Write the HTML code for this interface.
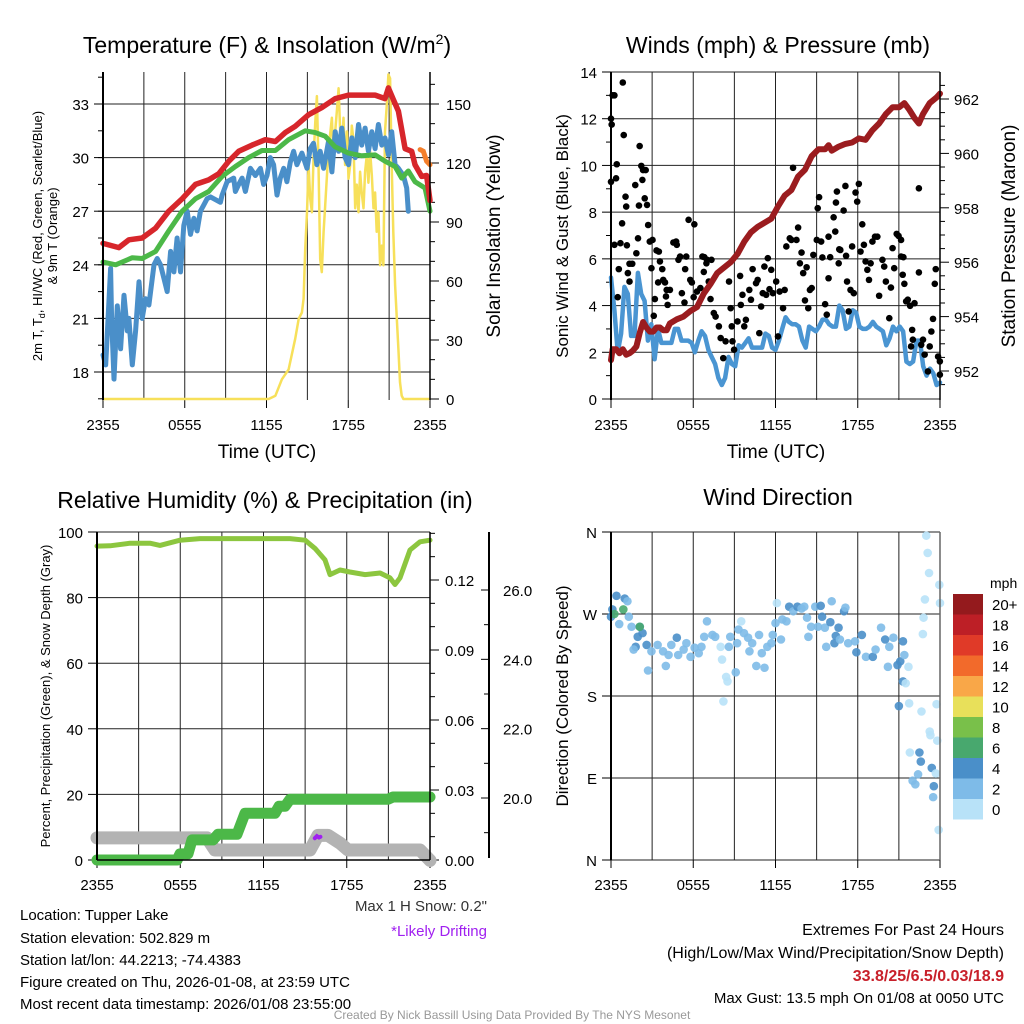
<!DOCTYPE html>
<html><head><meta charset="utf-8">
<style>
html,body{margin:0;padding:0;background:#fff;}
svg{display:block;font-family:"Liberation Sans",Arial,sans-serif;}
</style></head>
<body>
<svg id="chart" width="1024" height="1024" viewBox="0 0 1024 1024" xmlns="http://www.w3.org/2000/svg">
<rect width="1024" height="1024" fill="#fff"/>
<!-- titles -->
<text x="267" y="53" font-size="23" text-anchor="middle">Temperature (F) &amp; Insolation (W/m<tspan font-size="14" dy="-9">2</tspan><tspan dy="9">)</tspan></text>
<text x="778" y="53" font-size="23" text-anchor="middle">Winds (mph) &amp; Pressure (mb)</text>
<text x="265" y="508" font-size="23" text-anchor="middle">Relative Humidity (%) &amp; Precipitation (in)</text>
<text x="778" y="505" font-size="23" text-anchor="middle">Wind Direction</text>
<!-- axis titles -->
<text x="267" y="458" font-size="19" text-anchor="middle">Time (UTC)</text>
<text x="776" y="458" font-size="19" text-anchor="middle">Time (UTC)</text>
<text transform="translate(42,236) rotate(-90)" font-size="13" text-anchor="middle">2m T, T<tspan font-size="9" dy="3">d</tspan><tspan dy="-3">, HI/WC (Red, Green, Scarlet/Blue)</tspan></text>
<text transform="translate(57,236) rotate(-90)" font-size="13" text-anchor="middle">&amp; 9m T (Orange)</text>
<text transform="translate(500,236) rotate(-90)" font-size="19" text-anchor="middle">Solar Insolation (Yellow)</text>
<text transform="translate(568,236) rotate(-90)" font-size="17" text-anchor="middle">Sonic Wind &amp; Gust (Blue, Black)</text>
<text transform="translate(1015,236) rotate(-90)" font-size="19" text-anchor="middle">Station Pressure (Maroon)</text>
<text transform="translate(50,696) rotate(-90)" font-size="13" text-anchor="middle">Percent, Precipitation (Green), &amp; Snow Depth (Gray)</text>
<text transform="translate(568,696) rotate(-90)" font-size="17" text-anchor="middle">Direction (Colored By Speed)</text>
<g id="layers"></g>
<!-- colorbar -->
<text x="990" y="588" font-size="14">mph</text>
<g id="cbar"></g>
<!-- bottom text -->
<g font-size="15">
<text x="20" y="920">Location: Tupper Lake</text>
<text x="20" y="943">Station elevation: 502.829 m</text>
<text x="20" y="965">Station lat/lon: 44.2213; -74.4383</text>
<text x="20" y="987">Figure created on Thu, 2026-01-08, at 23:59 UTC</text>
<text x="20" y="1009">Most recent data timestamp: 2026/01/08 23:55:00</text>
</g>
<text x="487" y="911" font-size="15" text-anchor="end" fill="#333">Max 1 H Snow: 0.2"</text>
<text x="487" y="936" font-size="15" text-anchor="end" fill="#a020f0">*Likely Drifting</text>
<g font-size="16" text-anchor="end">
<text x="1004" y="935">Extremes For Past 24 Hours</text>
<text x="1004" y="958">(High/Low/Max Wind/Precipitation/Snow Depth)</text>
<text x="1004" y="981" fill="#c8202a" font-weight="bold">33.8/25/6.5/0.03/18.9</text>
<text x="1004" y="1003" font-size="15">Max Gust: 13.5 mph On 01/08 at 0050 UTC</text>
</g>
<text x="512" y="1019" font-size="12" text-anchor="middle" fill="#999">Created By Nick Bassill Using Data Provided By The NYS Mesonet</text>
</svg>
<script>
// ---------- DATA ----------
const timeTicks = ["2355","0555","1155","1755","2355"];
const tempTicks = [18,21,24,27,30,33];
const solarTicks = [0,30,60,90,120,150];
const windTicks = [0,2,4,6,8,10,12,14];
const pressTicks = [952,954,956,958,960,962];
const rhTicks = [0,20,40,60,80,100];
const precipTicks = ["0.00","0.03","0.06","0.09","0.12"];
const snowTicks = ["20.0","22.0","24.0","26.0"];
const dirLabels = ["N","E","S","W","N"];
const speedBins = ["0","2","4","6","8","10","12","14","16","18","20+"];

const redT = [0,1.17,1.9,2.88,3.86,4.83,5.81,6.79,7.76,8.5,9.23,9.96,10.94,11.91,12.65,13.38,14.11,15.09,16.06,17.04,18.02,18.99,19.97,20.7,20.95,21.31,21.68,22.17,22.66,22.9,23.39,23.75,24];
const redV = [25.2,24.96,25.4,25.5,26.05,27,27.7,28.5,28.75,29.1,29.8,30.35,30.7,31,30.9,31.4,31.75,32.4,32.8,33.3,33.5,33.5,33.5,33.3,33.9,33.25,32.6,30.5,30.35,29.6,28.95,29,27.6];
const greenT = [0,0.93,2.15,2.88,3.86,4.83,5.81,6.79,7.76,8.74,9.72,10.69,11.67,12.65,13.62,14.84,15.58,16.31,17.04,18.02,18.99,19.97,20.7,21.44,21.92,22.41,22.9,23.63,24];
const greenV = [24.15,24.0,24.4,24.35,24.75,25.9,27,27.7,28.1,28.95,29.5,30,30.4,30.4,31,31.5,31.4,31.2,30.6,30.25,30.1,30.15,29.8,29.5,28.85,29.25,28.65,28.3,27];
const blueT = [0,0.2,0.56,0.63,0.81,1.05,1.29,1.54,1.78,1.9,2.15,2.39,2.64,2.88,3.12,3.37,3.74,3.98,4.22,4.47,4.71,4.96,5.2,5.44,5.69,5.93,6.18,6.42,6.67,6.91,7.15,7.4,7.64,7.89,8.62,8.74,9.11,9.59,9.72,9.96,10.21,10.45,10.82,11.18,11.55,11.79,12.04,12.28,12.52,12.77,13.01,13.26,13.5,13.75,13.99,14.23,14.6,14.97,15.21,15.45,15.7,15.94,16.19,16.55,16.8,17.04,17.29,17.53,17.77,18.02,18.26,18.51,18.75,18.99,19.24,19.48,19.73,19.97,20.21,20.46,20.7,20.95,21.19,21.44,21.68,22.05,22.29,22.41];
const blueV = [18.95,18.4,23.8,21,17.6,21.7,19.3,22.3,20.3,21,18.4,20.3,23.05,21,22.1,21.75,24,24.35,24,23.25,22.5,24.75,23.6,25.5,23.6,26.2,27,25.7,26.6,25.9,27,27.35,27.7,27.8,27.5,27.9,28.65,28.85,28.1,28.5,28.85,28.1,29.4,29,29.4,28.5,29,30,29.6,27.9,28.85,29.4,28.65,29.75,30.35,29.6,30.25,29.4,30.5,30.8,29.6,30.35,29.4,30.9,29.2,31.45,30.35,31.65,30,29.6,31.1,30,31.85,30.7,31.65,30.35,31.45,30.5,31.85,30.7,31.1,30.15,31.45,29.6,29.4,29,28.3,27];
const orangeT = [23.27,23.51,23.75,24];
const orangeV = [30.45,30.35,29.8,29.6];
const solarT = [0,12.16,12.65,13.13,13.62,14.11,14.36,14.6,14.72,14.84,14.97,15.09,15.21,15.33,15.45,15.58,15.7,15.82,15.94,16.06,16.19,16.31,16.55,16.8,16.92,17.04,17.16,17.29,17.41,17.53,17.65,17.77,17.9,18.02,18.14,18.26,18.38,18.51,18.63,18.75,18.87,18.99,19.12,19.24,19.36,19.48,19.6,19.73,19.85,19.97,20.09,20.21,20.34,20.46,20.58,20.7,20.83,20.95,21.07,21.19,21.31,21.44,21.56,21.68,21.8,21.92,22.05,24];
const solarV = [0,0,1.7,10,15,30.6,40.8,44,51,76,95,119,102,95,122,141,154,119,71,64.5,85,98.5,127,143,119,136,146,158,136,126,143,119,136,112,119,139,132,97,109,95,115.5,105,97,115.5,124,110,126,114,97,105,85,95,68,78,68,136,149.5,165,163,119,85,58,41,25.5,8.5,1.7,0,0];

const windV = [5.2,3.8,2,2.8,4.8,4.5,2.7,2.7,5.4,4.5,4.2,2.5,3.2,1.7,3,2.4,2.4,2.4,2.4,3,3,2.5,2.5,2.5,2.4,2,2.5,2.9,2.7,2.1,1.8,1.5,0.9,0.6,0.9,1.8,1.5,1.4,2.3,2.2,2.4,2.6,2.2,2.2,2.2,2.2,2.8,2.7,2.2,2.1,2.5,3,3.5,3.3,3.2,3.2,3.1,2.5,2.2,3.1,3,2.9,3.1,3.4,3.4,3.2,3.1,3.1,4,3.8,3,3.1,3.8,3.7,3.1,3,3,3.1,3.3,3.1,3,2.9,2.3,2.6,3.1,2.9,3.1,2.9,1.6,1.5,1.6,2.5,2.5,1.4,1.0,1.3,1.1,0.6,0.7];
const gustT = [0,0.12,0.25,0.86,0.05,0,0.37,0.42,0.93,1.06,1.11,0.81,0.25,0.69,1.16,0.57,0.49,1.35,1.55,1.23,1.35,1.85,1.97,2.09,2.21,2.34,2.53,2.29,1.77,2.04,2.46,2.63,2.71,2.83,3.03,2.95,3.2,3.12,3.32,3.49,3.57,3.44,3.74,3.81,3.94,4.06,4.01,4.13,4.3,4.55,4.75,4.8,4.92,5.04,5.17,5.36,5.49,5.41,5.66,6.08,5.78,5.9,6.03,6.27,6.52,6.67,6.81,7.01,7.33,6.96,6.77,7.13,7.26,7.5,7.63,7.87,8.0,8.19,8.36,8.61,8.73,8.81,8.86,8.98,9.23,9.42,9.47,9.59,9.72,9.84,10.09,10.21,10.33,10.58,10.7,10.82,10.95,11.07,11.19,11.32,11.44,11.56,11.69,11.81,12.05,12.3,12.18,12.55,12.67,12.79,13.04,13.16,13.28,13.53,13.65,13.78,13.9,14.02,14.15,14.27,14.39,14.51,14.64,14.76,15.01,15.08,15.18,15.33,15.42,15.62,15.74,15.87,15.87,15.99,16.24,16.36,16.41,16.48,16.61,16.65,16.73,16.97,17.1,17.15,17.22,17.34,17.47,17.59,17.71,17.84,17.96,18.08,18.2,18.33,18.45,18.57,18.7,18.82,18.94,19.07,19.26,19.43,19.56,19.8,19.93,20.05,20.3,20.42,20.54,20.66,20.84,20.98,21.16,21.16,21.33,21.28,21.4,21.53,21.65,21.82,21.97,22.14,22.02,21.89,22.46,22.46,22.63,22.76,22.88,23.12,23.25,23.37,23.49,23.69,23.62,23.86,23.99,23.99];
const gustV = [12.0,13.0,13.0,13.55,11.75,9.3,9.45,10.05,11.3,8.66,8.24,7.52,6.6,6.67,6.58,5.56,4.36,5.79,5.79,5.39,5.03,6.24,6.88,10.83,9.98,9.8,9.8,9.38,9.16,8.28,8.59,8.31,7.45,6.74,6.81,5.6,4.28,3.56,6.36,6.31,5.89,4.99,5.56,5.1,4.99,4.67,4.39,4.03,4.67,6.7,6.74,6.6,5.96,6.1,4.53,4.13,6.1,5.56,7.67,7.48,5.1,4.99,4.36,4.6,4.75,6.1,6.07,5.96,5.96,5.81,5.44,5.03,4.28,3.68,3.53,3.11,2.61,1.75,2.47,5.03,3.89,3.11,2.47,2.11,3.32,5.27,4.03,4.46,3.11,3.39,4.67,4.25,5.56,4.96,5.1,2.82,3.96,4.53,5.67,4.46,6.03,4.7,5.53,4.53,5.03,4.6,2.68,3.89,4.67,6.53,6.88,6.81,9.9,6.81,7.34,5.81,6.27,5.39,4.22,5.64,3.89,4.67,4.75,6.17,6.81,8.17,8.64,6.74,6.06,4.06,3.61,5.17,6.95,6.07,7.78,7.17,8.41,8.88,5.81,6.41,6.38,8.07,9.12,6.13,5.03,3.75,4.67,6.53,4.53,8.84,8.45,9.21,6.31,7.48,6.6,5.89,5.53,5.1,5.81,6.74,6.95,6.95,4.42,5.96,5.67,5.03,3.46,4.77,6.46,5.6,7.07,6.98,6.81,6.1,6.07,5.32,4.93,4.18,4.25,3.99,2.96,4.1,2.54,2.25,9.02,5.42,2.32,2.54,1.9,1.18,2.25,2.89,3.43,5.56,4.93,1.82,1.61,1.04];
const presT = [0,0.12,0.37,0.62,0.86,1.11,1.35,1.6,1.85,2.09,2.34,2.58,2.83,3.08,3.32,3.57,3.81,4.06,4.3,4.8,5.29,5.78,6.27,6.77,7.26,7.75,8.24,8.73,9.23,9.72,10.21,10.7,11.19,11.69,12.18,12.67,13.16,13.65,14.15,14.64,15.13,15.62,15.87,16.11,16.61,17.1,17.59,18.08,18.57,19.07,19.56,20.05,20.54,21.03,21.4,21.77,22.14,22.46,22.76,23.25,23.74,24];
const presV = [952.4,952.8,952.8,952.65,952.8,952.6,952.65,952.75,952.9,953.4,953.8,953.6,953.45,953.45,953.6,953.6,953.5,953.5,953.75,953.9,954.0,954.2,954.35,954.85,955.2,955.6,955.8,956.0,956.3,956.75,957.1,957.3,957.45,957.6,958.05,958.45,958.65,959.15,959.4,959.9,960.15,960.15,960.3,960.1,960.25,960.35,960.4,960.55,960.5,960.85,961.1,961.45,961.7,961.7,961.85,961.6,961.3,961.1,961.45,961.85,962.05,962.2];

const rhT = [0,0.94,2.38,3.82,4.54,5.98,7.42,11.75,13.91,15,15.71,16.43,16.79,17.51,18.23,19.32,20.4,21.12,21.48,21.84,22.56,23.28,24];
const rhV = [95.7,95.8,96.6,96.6,95.9,97.5,98,98,98,97.5,95,91.5,87,88.4,87.8,87,87.5,86,84,86,94.5,97,97.5];
const precipT = [0,5.77,5.98,6.56,6.85,8.36,8.72,10.09,10.67,12.83,13.12,13.55,13.91,20.97,21.33,24];
const precipV = [0,0,0.0026,0.0026,0.0086,0.0086,0.011,0.011,0.020,0.020,0.023,0.023,0.026,0.026,0.027,0.027];
const snowT = [0,7.93,8.5,15.35,15.93,16.65,17.51,18.09,23.28,24];
const snowV = [18.85,18.85,18.5,18.5,18.92,18.92,18.7,18.5,18.5,18.2];
const driftT = [15.7,15.85,16.0,16.1];
const driftV = [18.84,18.9,18.86,18.88];

const dirT = [0,0.1,0.4,1.0,1.2,0.6,1.3,1.5,2.1,1.95,1.8,1.65,2.3,2.6,2.7,2.95,3.4,3.8,4.0,4.2,4.4,4.8,4.9,5.3,5.5,5.8,6.1,6.4,6.6,6.8,7.0,7.4,7.6,8.0,8.1,8.4,8.5,8.2,8.6,8.7,9.1,9.2,9.3,9.5,9.7,10.0,10.1,10.3,10.6,10.8,11.0,11.2,11.4,11.7,11.8,12.0,12.1,12.4,12.5,12.8,13.0,13.3,13.6,13.9,14.1,14.3,14.4,14.6,14.9,15.1,15.3,15.4,15.6,15.7,16.0,16.1,16.3,16.4,16.6,16.7,17.0,17.1,17.3,17.8,17.9,18.3,18.6,19.1,19.3,19.7,20.0,20.2,20.3,20.6,20.9,21.0,21.1,21.3,21.4,21.3,21.5,21.7,21.75,21.8,22.0,22.2,22.4,22.5,22.6,22.65,22.8,22.75,22.9,23.0,23.1,23.2,23.25,23.3,23.4,23.55,23.5,23.7,23.75,23.8,23.9,23.95,24.0,0.9,0.25,2.1];
const dirV = [267,275,290,287,284,259,267,256,256,245,234,231,249,236,208,229,236,229,213,225,236,244,225,231,238,223,233,227,234,245,262,247,245,234,220,201,196,174,234,245,206,238,253,262,249,244,229,238,213,247,227,211,234,238,247,260,282,242,264,262,278,273,278,276,278,266,245,256,278,256,279,267,255,234,261,284,238,246,255,242,273,277,238,240,228,247,223,223,231,255,242,212,234,244,214,169,218,240,225,196,194,212,172,118,87,83,94,118,108,163,266,248,286,356,337,315,141,137,101,81,69,95,171,131,33,302,282,275,270,256];
const dirS = [4,4,4,4,2,2,2,2,4,4,4,2,4,4,2,2,2,2,2,2,2,4,2,2,2,2,2,2,2,2,2,2,2,0,0,0,0,0,2,2,2,2,2,0,2,2,2,2,2,2,2,2,2,2,2,2,0,2,2,2,4,2,4,2,2,2,2,2,2,2,4,4,2,2,4,2,4,4,4,2,4,2,2,2,4,4,2,4,2,2,4,2,2,2,4,4,4,4,2,4,0,0,0,0,2,2,2,4,4,0,0,0,0,0,0,0,0,0,4,4,2,0,0,0,0,0,0,6,6,6];
const speedColors = {0:"#b8e2f8",2:"#7ebbe8",4:"#4a8fc9",6:"#48a86e"};
const binColors = ["#b8e2f8","#7ebbe8","#4a8fc9","#48a86e","#79c04a","#e8e05a","#f9a748","#f26a2b","#e03a28","#bd1f26","#941a1d"];

// ---------- helpers ----------
const NS="http://www.w3.org/2000/svg";
const layers=document.getElementById('layers');
function mk(tag,attrs,parent){const e=document.createElementNS(NS,tag);for(const k in attrs)e.setAttribute(k,attrs[k]);(parent||layers).appendChild(e);return e;}
function lin(d0,d1,r0,r1){return v=>r0+(v-d0)*(r1-r0)/(d1-d0);}
function pathOf(ts,vs,sx,sy){let d="";for(let i=0;i<ts.length;i++)d+=(i?"L":"M")+sx(ts[i]).toFixed(1)+","+sy(vs[i]).toFixed(1);return d;}
function line(x1,y1,x2,y2,stroke,w){return mk('line',{x1,y1,x2,y2,stroke,'stroke-width':w});}
function txt(x,y,s,anchor,size){const t=mk('text',{x,y,'font-size':size||15,'text-anchor':anchor||'middle'});t.textContent=s;return t;}

// ---------- panel 1 ----------
{
const X0=103,X1=430,T=72,B=400;
const sx=lin(0,24,X0,X1), sy=lin(18,33,372,104), ss=lin(0,150,399,104);
for(let h=3;h<24;h+=3){const l=line(sx(h),T,sx(h),B,'#222',1);}
tempTicks.forEach(v=>{const l=line(X0,sy(v),X1,sy(v),'#222',1);
 const tk=line(X0-9,sy(v),X0,sy(v),'#000',1);
 const t=txt(X0-14,sy(v)+6,String(v),'end',15);});
for(let v=16.5;v<=34.5;v+=1.5){const tk=line(X0-5,sy(v),X0,sy(v),'#000',1);}
solarTicks.forEach(v=>{const tk=line(X1,ss(v),X1+9,ss(v),'#000',1);
 const t=txt(X1+16,ss(v)+6,String(v),'start',15);});
for(let v=10;v<170;v+=10){if(v%30){const tk=line(X1,ss(v),X1+5,ss(v),'#000',1);}}
timeTicks.forEach((s,i)=>{const x=sx(i*6);const tk=line(x,B,x,B+8,'#000',1);
 const t=txt(x,B+30,s,'middle',15);});
const sol=mk('path',{d:pathOf(solarT,solarV,sx,ss),fill:'none',stroke:'#f7e05a','stroke-width':2.5,'stroke-linejoin':'round'});

const bl=mk('path',{d:pathOf(blueT,blueV,sx,sy),fill:'none',stroke:'#4a8fc9','stroke-width':5,'stroke-linejoin':'round','stroke-linecap':'round'});

const gr=mk('path',{d:pathOf(greenT,greenV,sx,sy),fill:'none',stroke:'#4cb848','stroke-width':5,'stroke-linejoin':'round','stroke-linecap':'round'});

const rd=mk('path',{d:pathOf(redT,redV,sx,sy),fill:'none',stroke:'#d7262b','stroke-width':5.5,'stroke-linejoin':'round','stroke-linecap':'round'});

const or=mk('path',{d:pathOf(orangeT,orangeV,sx,sy),fill:'none',stroke:'#f47f2a','stroke-width':5,'stroke-linecap':'round'});

const la=line(X0,T,X0,B,'#000',2);
const ra=line(X1,T,X1,B,'#000',1.5);
}
// ---------- panel 2 ----------
{
const X0=611,X1=940,T=72,B=400;
const sx=lin(0,24,X0,X1), sy=lin(0,14,399,72), sp=lin(952,962,371,99);
for(let h=3;h<24;h+=3){const l=line(sx(h),T,sx(h),B,'#222',1);}
windTicks.forEach(v=>{const l=line(X0,sy(v),X1,sy(v),'#222',1);
 const tk=line(X0-9,sy(v),X0,sy(v),'#000',1);
 const t=txt(X0-14,sy(v)+6,String(v),'end',15);});
for(let v=1;v<14;v+=2){const tk=line(X0-5,sy(v),X0,sy(v),'#000',1);}
pressTicks.forEach(v=>{const tk=line(X1,sp(v),X1+9,sp(v),'#000',1);
 const t=txt(X1+14,sp(v)+6,String(v),'start',15);});
for(let v=951.5;v<963;v+=0.5){if(v%2){const tk=line(X1,sp(v),X1+5,sp(v),'#000',1);}}
timeTicks.forEach((s,i)=>{const x=sx(i*6);const tk=line(x,B,x,B+8,'#000',1);
 const t=txt(x,B+30,s,'middle',15);});
const step=24/(windV.length-1);const wT=windV.map((v,i)=>i*step);
const wl=mk('path',{d:pathOf(wT,windV,sx,sy),fill:'none',stroke:'#4a95d2','stroke-width':4.5,'stroke-linejoin':'round','stroke-linecap':'round'});

gustT.forEach((t,i)=>{const c=mk('circle',{cx:sx(t),cy:sy(gustV[i]),r:3.3,fill:'#000'});
 
 });
const pl=mk('path',{d:pathOf(presT,presV,sx,sp),fill:'none',stroke:'#9b1c1f','stroke-width':6,'stroke-linejoin':'round','stroke-linecap':'round'});

const la=line(X0,T,X0,B,'#000',2);
const ra=line(X1,T,X1,B,'#000',1.5);
}
// ---------- panel 3 ----------
{
const X0=97,X1=430,T=532,B=860;
const sx=lin(0,24,X0,X1), sy=lin(0,100,860,532), sq=lin(0,0.03,860,790), sd=lin(20,26,798,590);
for(let h=3;h<24;h+=3){const l=line(sx(h),T,sx(h),B,'#222',1);}
rhTicks.forEach(v=>{const l=line(X0,sy(v),X1,sy(v),'#222',1);
 const tk=line(X0-9,sy(v),X0,sy(v),'#000',1);
 const t=txt(X0-14,sy(v)+6,String(v),'end',15);});
precipTicks.forEach(s=>{const v=parseFloat(s);const tk=line(X1,sq(v),X1+9,sq(v),'#000',1);
 const t=txt(X1+15,sq(v)+6,s,'start',15);});
for(let v=0.01;v<0.14;v+=0.01){const tk=line(X1,sq(v),X1+5,sq(v),'#000',1);}
const oa=line(489,T,489,B-2,'#000',2);
snowTicks.forEach(s=>{const v=parseFloat(s);const tk=line(481,sd(v),489,sd(v),'#000',1);
 const t=txt(503,sd(v)+6,s,'start',15);});
for(let v=19;v<27;v+=1){if(v%2){const tk=line(484,sd(v),489,sd(v),'#000',1);}}
timeTicks.forEach((s,i)=>{const x=sx(i*6);const tk=line(x,B,x,B+8,'#000',1);
 const t=txt(x,B+30,s,'middle',15);});
const sn=mk('path',{d:pathOf(snowT,snowV,sx,sd),fill:'none',stroke:'#b3b3b3','stroke-width':13,'stroke-linejoin':'round','stroke-linecap':'round'});

const dr=mk('path',{d:pathOf(driftT,driftV,sx,sd),fill:'none',stroke:'#a020f0','stroke-width':4,'stroke-linecap':'round'});

const pr=mk('path',{d:pathOf(precipT,precipV,sx,sq),fill:'none',stroke:'#4cb848','stroke-width':11,'stroke-linejoin':'round','stroke-linecap':'round'});

const rh=mk('path',{d:pathOf(rhT,rhV,sx,sy),fill:'none',stroke:'#8cc63f','stroke-width':5,'stroke-linejoin':'round','stroke-linecap':'round'});

const la=line(X0,T,X0,B,'#000',2);
const ra=line(X1,T,X1,B,'#000',1.5);
const ba=line(X0,B,X1,B,'#000',1.5);
}
// ---------- panel 4 ----------
{
const X0=611,X1=940,T=532,B=860;
const sx=lin(0,24,X0,X1), sy=lin(0,360,860,532);
for(let h=3;h<24;h+=3){const l=line(sx(h),T,sx(h),B,'#222',1);}
dirLabels.forEach((s,i)=>{const y=sy(i*90);const l=line(X0,y,X1,y,'#222',1);
 const tk=line(X0-9,y,X0,y,'#000',1);
 const t=txt(X0-14,y+6,s,'end',15);});
timeTicks.forEach((s,i)=>{const x=sx(i*6);const tk=line(x,B,x,B+8,'#000',1);
 const t=txt(x,B+30,s,'middle',15);});
dirT.forEach((t,i)=>{const c=mk('circle',{cx:sx(t),cy:sy(dirV[i]),r:4.3,fill:speedColors[dirS[i]],'fill-opacity':0.9});
 
 });
const la=line(X0,T,X0,B,'#000',2);
const ra=line(X1,T,X1,B,'#666',1.5);
}
// ---------- colorbar ----------
{
const cb=document.getElementById('cbar');
speedBins.forEach((s,i)=>{const k=speedBins.length-1-i;const y=594+k*20.5;
 const r=mk('rect',{x:953,y:y,width:30,height:20.5,fill:binColors[i]},cb);
 
 
 const t=mk('text',{x:992,y:y+16,'font-size':15},cb);t.textContent=s;
 
 });
}
</script>
</body></html>
